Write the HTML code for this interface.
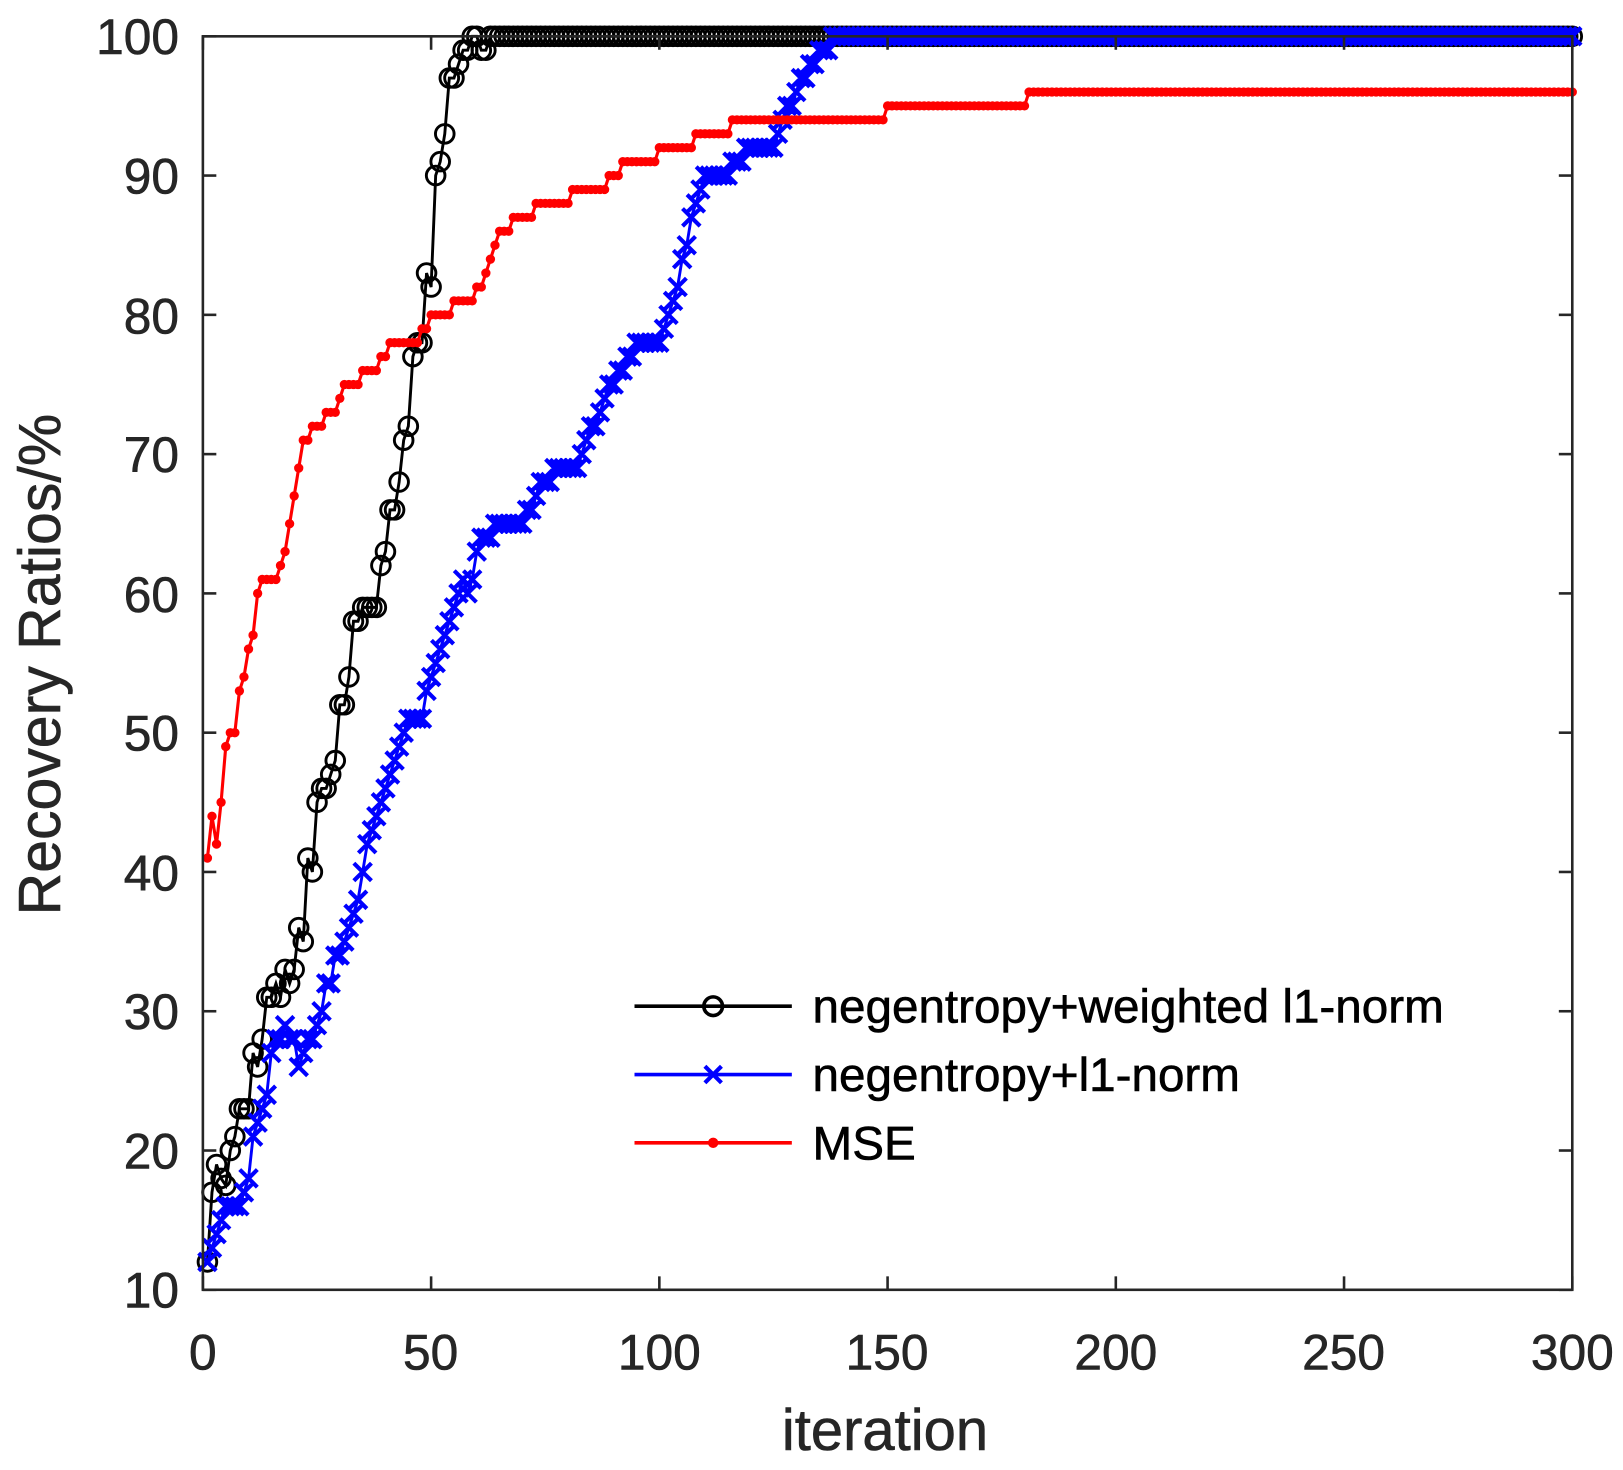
<!DOCTYPE html>
<html><head><meta charset="utf-8"><style>
html,body{margin:0;padding:0;background:#fff;}
svg{display:block;font-family:"Liberation Sans",Arial,sans-serif;}
</style></head><body>
<svg id="s" width="1623" height="1470" viewBox="0 0 1568 1420" xmlns="http://www.w3.org/2000/svg">
<rect width="1568" height="1420" fill="#fff"/>
<g id="plot"></g>
<rect x="196" y="35" width="1323" height="1211" fill="none" stroke="#262626" stroke-width="2.5"/>
<g id="ticks" stroke="#262626" stroke-width="2.5"></g>
<g font-size="48" fill="#262626" text-anchor="end" stroke="#262626" stroke-width="0.6">
<text x="173" y="52">100</text><text x="173" y="187">90</text><text x="173" y="322">80</text>
<text x="173" y="456">70</text><text x="173" y="591">60</text><text x="173" y="725">50</text>
<text x="173" y="860">40</text><text x="173" y="994">30</text><text x="173" y="1129">20</text>
<text x="173" y="1263">10</text>
</g>
<g font-size="48" fill="#262626" text-anchor="middle" stroke="#262626" stroke-width="0.6">
<text x="196" y="1323">0</text><text x="416" y="1323">50</text><text x="637" y="1323">100</text>
<text x="857" y="1323">150</text><text x="1078" y="1323">200</text><text x="1298" y="1323">250</text>
<text x="1519" y="1323">300</text>
</g>
<text x="855" y="1401" font-size="56" fill="#262626" stroke="#262626" stroke-width="0.6" text-anchor="middle">iteration</text>
<text transform="translate(58,642) rotate(-90)" font-size="57" fill="#262626" stroke="#262626" stroke-width="0.6" text-anchor="middle">Recovery Ratios/%</text>
<g id="legend"></g>
<g font-size="46" fill="#000" stroke="#000" stroke-width="0.6">
<text x="785" y="988">negentropy+weighted l1-norm</text>
<text x="785" y="1054">negentropy+l1-norm</text>
<text x="785" y="1120">MSE</text>
</g>
</svg>
<script>
const X=i=>196+i*4.41, Y=v=>1246-(v-10)*13.456;
function expand(k){const o=[];for(let j=0;j<k.length-1;j++){const[a,va]=k[j],[b,vb]=k[j+1];for(let i=a;i<b;i++)o.push([i,Math.round(va+(vb-va)*(i-a)/(b-a))]);}o.push(k[k.length-1]);return o;}
const black=[[1,12],[2,17],[3,19],[4,18],[5,17.5],[6,20],[7,21],[8,23],[9,23],[10,23],[11,27],[12,26],[13,28],[14,31],[15,31],[16,32],[17,31],[18,33],[19,32],[20,33],[21,36],[22,35],[23,41],[24,40],[25,45],[26,46],[27,46],[28,47],[29,48],[30,52],[31,52],[32,54],[33,58],[34,58],[35,59],[36,59],[37,59],[38,59],[39,62],[40,63],[41,66],[42,66],[43,68],[44,71],[45,72],[46,77],[47,78],[48,78],[49,83],[50,82],[51,90],[52,91],[53,93],[54,97],[55,97],[56,98],[57,99],[58,99],[59,100],[60,100],[61,99],[62,99],[63,100]];
for(let i=64;i<=300;i++)black.push([i,100]);
const blue=expand([[1,12],[2,13],[3,14],[4,15],[5,16],[8,16],[9,17],[10,18],[11,21],[12,22],[13,23],[14,24],[15,27],[16,28],[17,28],[18,29],[19,28],[20,28],[21,26],[22,27],[23,28],[24,28],[25,29],[26,30],[27,32],[28,32],[29,34],[30,34],[31,35],[32,36],[33,37],[34,38],[35,40],[36,42],[44,50],[45,51],[48,51],[49,53],[57,61],[58,60],[59,61],[60,63],[61,64],[62,64],[65,65],[70,65],[72,66],[74,68],[76,68],[78,69],[82,69],[84,71],[86,72],[88,74],[90,75],[92,76],[94,77],[96,78],[100,78],[102,80],[104,82],[106,85],[108,88],[110,90],[115,90],[117,91],[120,92],[125,92],[127,94],[130,96],[133,98],[136,99],[140,100],[300,100]]);
const redk=[[1,41],[2,44],[3,42],[4,45],[5,49],[6,50],[7,50],[8,53],[9,54],[10,56],[11,57],[12,60],[13,61],[16,61],[17,62],[18,63],[19,65],[20,67],[21,69],[22,71],[23,71],[24,72],[26,72],[27,73],[29,73],[30,74],[31,75],[34,75],[35,76],[38,76],[39,77],[40,77],[41,78],[47,78],[48,79],[49,79],[50,80],[54,80],[55,81],[59,81],[60,82],[62,83],[63,84],[64,85],[65,86],[67,86],[68,87],[72,87],[73,88],[80,88],[81,89],[88,89],[89,90],[91,90],[92,91],[99,91],[100,92],[107,92],[108,93],[115,93],[116,94],[149,94],[150,95],[180,95],[181,96],[300,96]];
const red=[];for(let j=0;j<redk.length-1;j++){const[a,va]=redk[j],[b]=redk[j+1];for(let i=a;i<b;i++)red.push([i,va]);}red.push([300,96]);
let h='';
const pl=(d,c,w)=>'<polyline fill="none" stroke="'+c+'" stroke-width="'+w+'" points="'+d.map(p=>X(p[0]).toFixed(1)+','+Y(p[1]).toFixed(1)).join(' ')+'"/>';
h+=pl(black,'#000',2.8);
black.forEach(p=>h+='<circle cx="'+X(p[0]).toFixed(1)+'" cy="'+Y(p[1]).toFixed(1)+'" r="9" fill="none" stroke="#000" stroke-width="2.8"/>');
h+=pl(blue,'#0000ff',2.8);
let bp='';blue.forEach(p=>{const x=X(p[0]),y=Y(p[1]),s=8.5;bp+='M'+(x-s)+' '+(y-s)+'L'+(x+s)+' '+(y+s)+'M'+(x-s)+' '+(y+s)+'L'+(x+s)+' '+(y-s);});
h+='<path d="'+bp+'" stroke="#0000ff" stroke-width="4" fill="none"/>';
h+=pl(red,'#ff0000',3);
red.forEach(p=>h+='<circle cx="'+X(p[0]).toFixed(1)+'" cy="'+Y(p[1]).toFixed(1)+'" r="4.5" fill="#ff0000"/>');
document.getElementById('plot').innerHTML=h;
let t='';
for(let v=10;v<=100;v+=10){const y=Y(v);t+='<line x1="196" y1="'+y+'" x2="209" y2="'+y+'"/><line x1="1506" y1="'+y+'" x2="1519" y2="'+y+'"/>';}
for(let i=0;i<=300;i+=50){const x=X(i);t+='<line x1="'+x+'" y1="1246" x2="'+x+'" y2="1233"/><line x1="'+x+'" y1="35" x2="'+x+'" y2="48"/>';}
document.getElementById('ticks').innerHTML=t;
document.getElementById('legend').innerHTML=
'<line x1="613" y1="972" x2="765" y2="972" stroke="#000" stroke-width="3.5"/><circle cx="689" cy="972" r="9" fill="none" stroke="#000" stroke-width="3.5"/>'+
'<line x1="613" y1="1038" x2="765" y2="1038" stroke="#0000ff" stroke-width="3.5"/><path d="M681 1030L697 1046M681 1046L697 1030" stroke="#0000ff" stroke-width="4"/>'+
'<line x1="613" y1="1104" x2="765" y2="1104" stroke="#ff0000" stroke-width="3.5"/><circle cx="689" cy="1104" r="5" fill="#ff0000"/>';
</script>
</body></html>
